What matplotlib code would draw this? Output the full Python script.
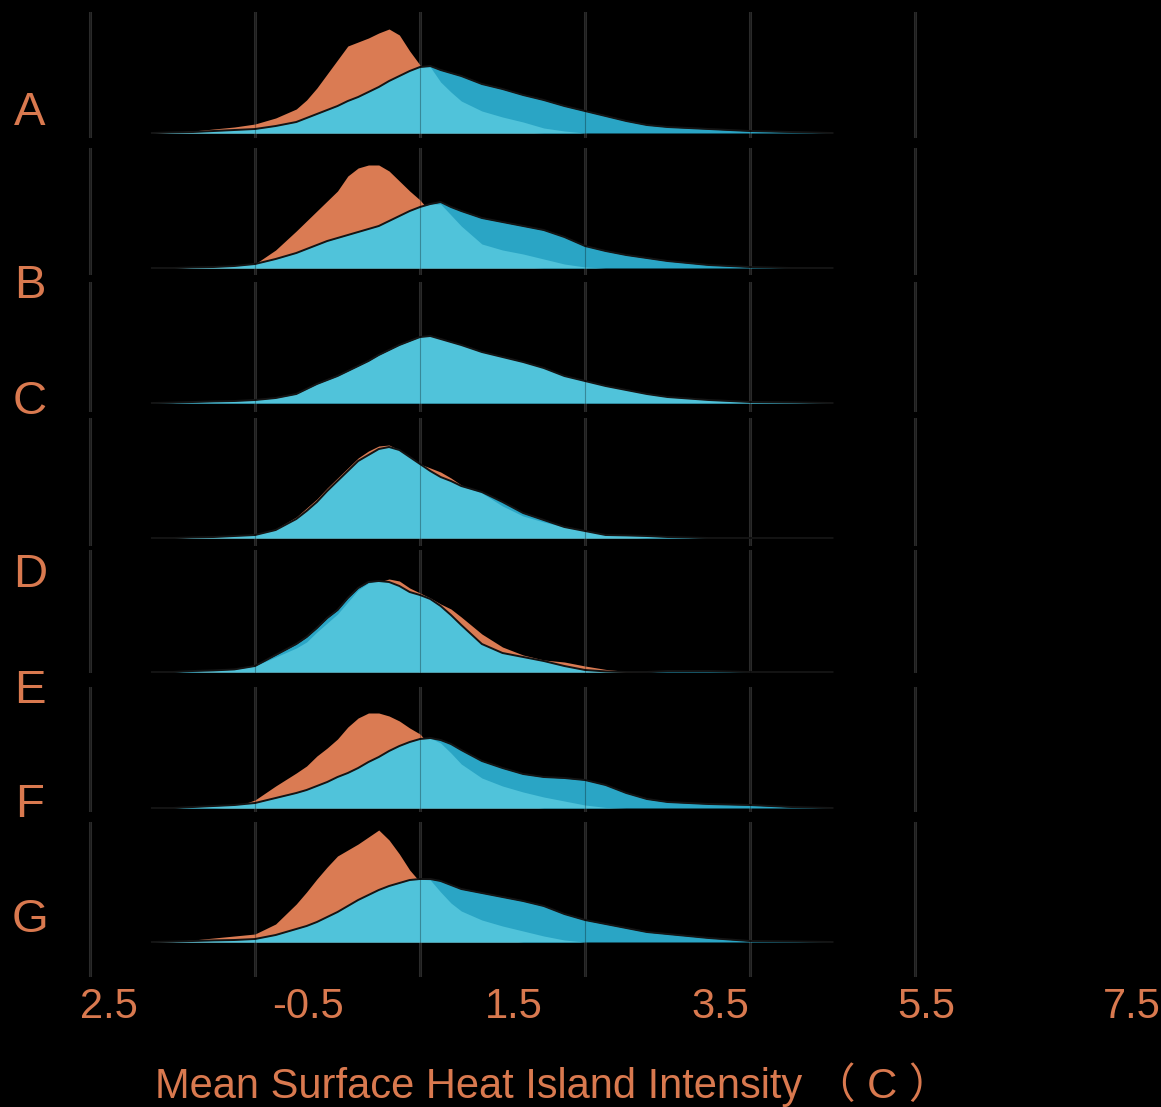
import numpy as np
import matplotlib.pyplot as plt

# ridge rows
groups = ['A', 'B', 'C', 'D', 'E', 'F', 'G']

# x sample points (deg C) shared by every density curve
temps = [-1.75, -1.5, -1.25, -1.0, -0.75, -0.5, -0.25, 0.0,
         0.125, 0.25, 0.375, 0.5, 0.625, 0.75, 0.875, 1.0,
         1.125, 1.25, 1.375, 1.5, 1.625, 1.75, 1.875, 2.0,
         2.25, 2.5, 2.75, 3.0, 3.25, 3.5, 3.75, 4.0, 4.25, 4.5,
         5.0, 5.5, 6.0, 6.5]

orange = [
    [0, .005, .01, .02, .03, .045, .075, .12, .165, .225, .295, .365, .435, .455, .475, .5,
     .52, .49, .41, .34, .26, .19, .14, .1, .04, .015, .005, 0, 0, 0, 0, 0, 0, 0, 0, 0, 0, 0],
    [0, 0, .003, .005, .01, .02, .09, .185, .235, .285, .335, .385, .46, .5, .515, .515,
     .485, .435, .385, .34, .28, .21, .15, .1, .04, .015, .005, 0, 0, 0, 0, 0, 0, 0, 0, 0, 0, 0],
    None,
    [0, 0, .003, .005, .01, .015, .045, .105, .15, .195, .25, .3, .35, .4, .435, .46,
     .465, .44, .405, .37, .35, .33, .3, .265, .21, .14, .09, .06, .04, .025, .01, .005, 0, 0, 0, 0, 0, 0],
    [0, 0, 0, .005, .01, .02, .06, .1, .13, .175, .22, .265, .325, .385, .425, .45,
     .465, .455, .42, .395, .37, .34, .315, .275, .19, .125, .085, .06, .05, .03, .013, .003, 0, 0, 0, 0, 0, 0],
    [0, 0, 0, 0, .005, .04, .11, .175, .21, .26, .3, .345, .405, .45, .475, .475,
     .46, .435, .4, .37, .31, .24, .18, .13, .06, .025, .01, 0, 0, 0, 0, 0, 0, 0, 0, 0, 0, 0],
    [0, .003, .01, .02, .03, .04, .09, .19, .25, .315, .375, .43, .46, .49, .525, .56,
     .51, .44, .36, .3, .225, .165, .12, .085, .035, .01, 0, 0, 0, 0, 0, 0, 0, 0, 0, 0, 0, 0],
]

teal_dark = [
    [0, .003, .005, .01, .015, .02, .035, .055, .075, .095, .115, .135, .16, .18, .205, .23,
     .26, .285, .31, .33, .335, .315, .3, .285, .245, .22, .19, .165, .135, .11, .085, .06, .04, .03, .02, .01, .005, 0],
    [0, 0, .003, .005, .01, .02, .045, .075, .095, .115, .135, .15, .165, .18, .195, .21,
     .235, .26, .285, .305, .32, .33, .305, .285, .25, .23, .21, .19, .155, .11, .085, .065, .05, .035, .015, .005, 0, 0],
    [0, .002, .005, .008, .01, .015, .025, .045, .07, .095, .115, .135, .16, .185, .21, .24,
     .265, .29, .31, .33, .335, .32, .305, .29, .255, .23, .205, .175, .135, .11, .085, .065, .045, .03, .015, .005, .003, 0],
    [0, 0, .003, .005, .01, .015, .04, .095, .135, .18, .235, .285, .335, .385, .415, .445,
     .455, .44, .405, .37, .335, .305, .285, .26, .23, .18, .125, .09, .055, .035, .015, .013, .01, .005, 0, 0, 0, 0],
    [0, 0, .005, .008, .013, .03, .085, .14, .175, .22, .27, .31, .37, .42, .45, .455,
     .45, .43, .4, .385, .365, .33, .285, .235, .14, .095, .075, .055, .03, .01, .003, 0, 0, .005, .005, 0, 0, 0],
    [0, 0, .005, .01, .015, .025, .05, .075, .09, .11, .13, .155, .175, .2, .23, .255,
     .285, .31, .33, .345, .35, .34, .32, .29, .235, .2, .17, .155, .15, .14, .115, .075, .045, .03, .02, .015, .005, 0],
    [0, .002, .005, .008, .01, .015, .035, .065, .08, .1, .125, .15, .18, .21, .235, .26,
     .28, .295, .31, .315, .315, .305, .285, .265, .245, .225, .205, .18, .14, .11, .09, .07, .05, .04, .02, .005, .003, 0],
]

teal_light = [
    [0, .003, .005, .01, .015, .02, .035, .055, .075, .095, .115, .135, .16, .18, .205, .23,
     .26, .285, .31, .33, .33, .255, .205, .16, .11, .08, .055, .025, .01, 0, 0, 0, 0, 0, 0, 0, 0, 0],
    [0, 0, .003, .005, .01, .02, .045, .075, .095, .115, .135, .15, .165, .18, .195, .21,
     .235, .26, .285, .305, .32, .32, .265, .21, .12, .09, .07, .045, .02, .005, 0, 0, 0, 0, 0, 0, 0, 0],
    [0, .002, .005, .008, .01, .015, .025, .045, .07, .095, .115, .135, .16, .185, .21, .24,
     .265, .29, .31, .33, .335, .32, .305, .29, .255, .23, .205, .175, .135, .11, .085, .065, .045, .03, .015, .005, .003, 0],
    [0, 0, .003, .005, .01, .015, .04, .095, .135, .18, .235, .285, .335, .385, .415, .445,
     .455, .44, .405, .37, .335, .305, .285, .26, .225, .16, .11, .08, .055, .035, .015, .013, .01, .005, 0, 0, 0, 0],
    [0, 0, .005, .008, .013, .03, .075, .12, .15, .2, .245, .29, .35, .41, .445, .455,
     .45, .43, .4, .385, .365, .33, .285, .235, .14, .095, .075, .055, .03, .01, .003, 0, 0, 0, 0, 0, 0, 0],
    [0, 0, .005, .01, .015, .025, .05, .075, .09, .11, .13, .155, .175, .2, .23, .255,
     .285, .31, .33, .345, .35, .325, .275, .22, .15, .11, .08, .055, .035, .015, .003, 0, 0, 0, 0, 0, 0, 0],
    [0, .002, .005, .008, .01, .015, .035, .065, .08, .1, .125, .15, .18, .21, .235, .26,
     .28, .295, .31, .315, .31, .25, .195, .155, .11, .08, .055, .03, .01, 0, 0, 0, 0, 0, 0, 0, 0, 0],
]

tick_vals = [-2.5, -0.5, 1.5, 3.5, 5.5, 7.5]
tick_text = ['-2.5', '-0.5', '1.5', '3.5', '5.5', '7.5']

TXT = '#D9794F'
ORANGE = '#DA7B53'
LIGHT = '#50C3DA'
DARK = '#2AA5C5'
FONT = ['Liberation Sans', 'Noto Sans CJK SC']

W, H = 1161, 1107
fig = plt.figure(figsize=(W / 100, H / 100), dpi=100, facecolor='black')

# row panel extents in pixels (top, bottom, baseline)
row_top = [12, 148, 282, 418, 550, 687, 822]
row_bot = [138, 275, 412, 546, 673, 812, 977]
row_base = [133, 268, 403, 538, 672, 808, 942]
label_y = [125, 298, 414, 587, 703, 817, 932]
ypx = 200.0  # pixels per density unit

x = np.array(temps)
xlim = (-2.5 - 90 / 82.5, -2.5 + (W - 90) / 82.5)

for i, g in enumerate(groups):
    t, b, y0 = row_top[i], row_bot[i], row_base[i]
    ax = fig.add_axes([0, 1 - b / H, 1, (b - t) / H])
    ax.set_facecolor('none')
    ax.set_xlim(*xlim)
    ax.set_ylim(-(b - y0) / ypx, (y0 - t) / ypx)
    for s in ax.spines.values():
        s.set_visible(False)
    ax.set_xticks(tick_vals)
    ax.set_yticks([])
    ax.tick_params(length=0, labelbottom=False)
    ax.grid(axis='x', color='#2b2b2b', lw=2.2)
    ax.set_axisbelow(True)

    if orange[i] is not None:
        ax.fill_between(x, 0, orange[i], color=ORANGE, lw=0, zorder=2)
    ax.fill_between(x, 0, teal_dark[i], color=DARK, lw=0, zorder=3)
    ax.fill_between(x, 0, teal_light[i], color=LIGHT, lw=0, zorder=4)
    ax.plot(x, teal_dark[i], color='#141414', lw=1.4, zorder=5)
    for v in tick_vals:
        ax.axvline(v, color='black', lw=0.8, alpha=0.3, zorder=6)

    fig.text(30 / W, 1 - label_y[i] / H, g, ha='center', va='baseline',
             fontsize=34, color=TXT, family=FONT)

# tick labels on their own strip (left one is cut by the edge)
lab_left = 80
lab = fig.add_axes([lab_left / W, 1 - 1040 / H, 1 - lab_left / W, 80 / H])
lab.set_xlim(-2.5 + (lab_left - 102) / 103.0, -2.5 + (W - 102) / 103.0)
lab.set_ylim(0, 1)
lab.axis('off')
for v, s in zip(tick_vals, tick_text):
    lab.text(v, (1040 - 1018) / 80, s, ha='center', va='baseline', fontsize=30,
             color=TXT, family=FONT, clip_on=True)

fig.text(553 / W, 1 - 1098 / H, 'Mean Surface Heat Island Intensity \uff08 C \uff09',
         ha='center', va='baseline', fontsize=30, color=TXT, family=FONT)

fig.savefig('out.png', dpi=100, facecolor='black')
